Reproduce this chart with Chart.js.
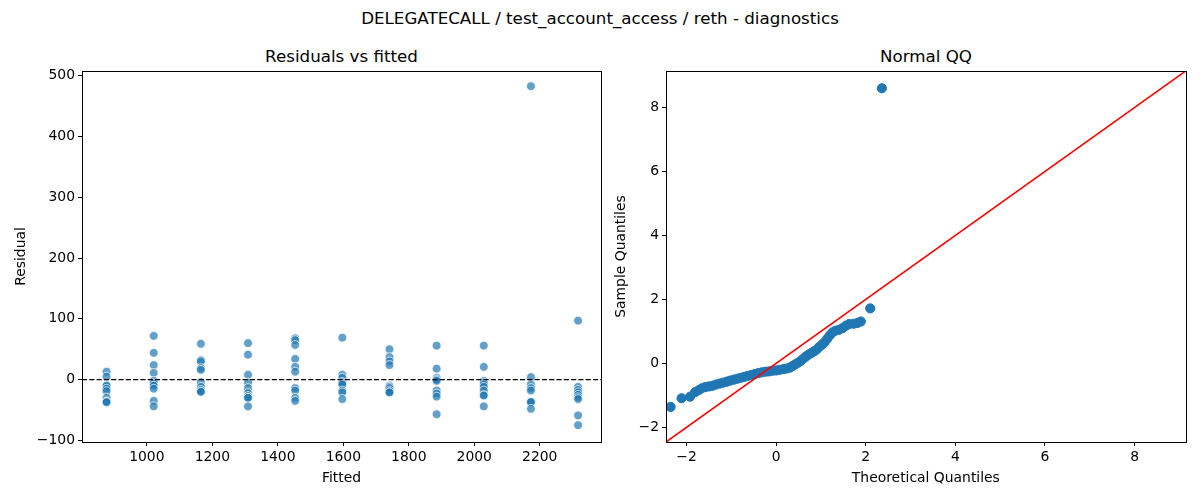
<!DOCTYPE html>
<html>
<head>
<meta charset="utf-8">
<script src="https://cdn.jsdelivr.net/npm/chart.js@4.4.0/dist/chart.umd.min.js"></script>
<style>
  body { margin: 0; width: 1200px; height: 500px; background: #fff; position: relative; overflow: hidden;
         font-family: "DejaVu Sans", sans-serif; color: #000; }
  .t { position: absolute; white-space: nowrap; transform: translate(-50%, -50%); }
  #sup { left: 600px; top: 18px; font-size: 16.7px; }
  #t1 { left: 341.5px; top: 56px; font-size: 16.7px; }
  #t2 { left: 926px; top: 56px; font-size: 16.7px; }
  canvas { position: absolute; top: 40px; }
  #left { left: 0; }
  #right { left: 600px; }
</style>
</head>
<body>
<div class="t" id="sup">DELEGATECALL / test_account_access / reth - diagnostics</div>
<div class="t" id="t1">Residuals vs fitted</div>
<div class="t" id="t2">Normal QQ</div>
<canvas id="left" width="620" height="460"></canvas>
<canvas id="right" width="600" height="460"></canvas>
<script>
// fitted levels and the residuals seen at each level
const fitted = [877, 1021, 1165, 1309, 1453, 1597, 1741, 1885, 2029, 2173, 2317];
const residuals = [
  [13, 5, -10, -10, -15, -19, -30, -36, -37, -37],
  [72, 44, 24, 11, -2, -6, -10, -15, -35, -44],
  [59, 32, 30, 19, 16, -4, -12, -17, -20, -20],
  [60, 41, 8, -5, -14, -22, -27, -30, -30, -44],
  [68, 65, 57, 34, 21, 13, -14, -18, -30, -35],
  [69, 8, 3, -4, -6, -8, -18, -21, -32],
  [50, 37, 30, 24, -10, -12, -14, -18, -21, -21],
  [56, 18, 3, 0, -2, -18, -23, -28, -57],
  [56, 21, -2, -5, -8, -12, -18, -26, -26, -44],
  [483, 4, -8, -14, -18, -36, -37, -37, -48],
  [97, -12, -17, -21, -25, -29, -32, -59, -75]
];
const fittedTicks = [1000, 1200, 1400, 1600, 1800, 2000, 2200];
const residTicks = [-100, 0, 100, 200, 300, 400, 500];
const fittedRange = [802, 2387];
const residRange = [-102.7, 508];

// normal QQ points
const qqTheoretical = [-2.355, -2.11, -1.92, -1.81, -1.73, -1.66, -1.58, -1.50, -1.42, -1.34, -1.26, -1.18,
  -1.10, -1.03, -0.95, -0.87, -0.79, -0.71, -0.63, -0.55, -0.47, -0.39, -0.32, -0.24, -0.16, -0.08,
  0.00, 0.08, 0.16, 0.24, 0.31, 0.37, 0.43, 0.49, 0.55, 0.61, 0.67, 0.73, 0.79, 0.85, 0.91, 0.96,
  1.02, 1.08, 1.14, 1.20, 1.26, 1.32, 1.40, 1.48, 1.56, 1.63, 1.73, 1.81, 1.89, 2.10, 2.36];
const qqSample = [-1.36, -1.09, -1.04, -0.90, -0.84, -0.78, -0.74, -0.72, -0.70, -0.66, -0.63, -0.60,
  -0.57, -0.54, -0.51, -0.48, -0.45, -0.42, -0.39, -0.36, -0.33, -0.30, -0.28, -0.26, -0.25, -0.23,
  -0.22, -0.20, -0.18, -0.16, -0.13, -0.08, -0.03, 0.02, 0.08, 0.15, 0.22, 0.28, 0.33, 0.38, 0.44, 0.51,
  0.58, 0.66, 0.77, 0.88, 0.97, 1.02, 1.05, 1.10, 1.18, 1.23, 1.24, 1.26, 1.31, 1.72, 8.60];
const qqTicks = [-2, 0, 2, 4, 6, 8];
const qqRange = [-2.457, 9.14];

const FONT = '"DejaVu Sans", sans-serif';
const minus = v => String(v).replace('-', '\u2212');

// matplotlib style box around the plot area
const frame = {
  id: 'frame',
  afterDatasetsDraw(chart) {
    const a = chart.chartArea, c = chart.ctx;
    c.save();
    c.strokeStyle = '#000';
    c.lineWidth = 1;
    c.strokeRect(Math.round(a.left) + 0.5, Math.round(a.top) + 0.5,
      Math.round(a.right - a.left), Math.round(a.bottom - a.top));
    c.restore();
  }
};

function axis(range, ticks, label, isY, width) {
  return {
    type: 'linear',
    min: range[0],
    max: range[1],
    afterBuildTicks: s => { s.ticks = ticks.map(v => ({ value: v })); },
    afterFit: s => { if (isY) s.width = width; else s.height = 58; },
    grid: { drawOnChartArea: false, drawTicks: true, tickLength: 4, tickColor: '#000', color: '#000' },
    border: { display: false },
    ticks: { color: '#000', padding: 3, maxRotation: 0, autoSkip: false,
             font: { family: FONT, size: 13.9 }, callback: v => minus(v) },
    title: { display: true, text: label, color: '#000', font: { family: FONT, size: 13.9 },
             padding: isY ? { top: 13.5, bottom: 0 } : { top: 0, bottom: 13.6 } }
  };
}

const base = {
  responsive: false,
  animation: false,
  events: [],
  plugins: { legend: { display: false }, tooltip: { enabled: false } }
};

const residPoints = [];
fitted.forEach((f, i) => residuals[i].forEach(r => residPoints.push({ x: f, y: r })));

new Chart(document.getElementById('left'), {
  type: 'scatter',
  data: {
    datasets: [
      {
        type: 'line',
        data: [{ x: fittedRange[0], y: 0 }, { x: fittedRange[1], y: 0 }],
        borderColor: '#000', borderWidth: 1.4, borderDash: [5.1, 2.2], pointRadius: 0, order: 0
      },
      {
        data: residPoints,
        backgroundColor: 'rgba(31,119,180,0.7)',
        borderColor: 'rgba(255,255,255,0.9)',
        borderWidth: 0.8,
        pointRadius: 4.4,
        order: 1
      }
    ]
  },
  options: Object.assign({}, base, {
    layout: { padding: { top: 31, right: 19, left: 0, bottom: 0 } },
    scales: {
      x: axis(fittedRange, fittedTicks, 'Fitted', false),
      y: axis(residRange, residTicks, 'Residual', true, 82)
    }
  }),
  plugins: [frame]
});

new Chart(document.getElementById('right'), {
  type: 'scatter',
  data: {
    datasets: [
      {
        type: 'line',
        data: [{ x: qqRange[0], y: qqRange[0] }, { x: qqRange[1], y: qqRange[1] }],
        borderColor: '#ff0000', borderWidth: 1.6, pointRadius: 0, order: 0
      },
      {
        data: qqTheoretical.map((t, i) => ({ x: t, y: qqSample[i] })),
        backgroundColor: '#1f77b4',
        borderColor: '#1f77b4',
        borderWidth: 1,
        pointRadius: 4.6,
        order: 1
      }
    ]
  },
  options: Object.assign({}, base, {
    layout: { padding: { top: 31, right: 14.3, left: 0, bottom: 0 } },
    scales: {
      x: axis(qqRange, qqTicks, 'Theoretical Quantiles', false),
      y: axis(qqRange, qqTicks, 'Sample Quantiles', true, 66)
    }
  }),
  plugins: [frame]
});
</script>
</body>
</html>
